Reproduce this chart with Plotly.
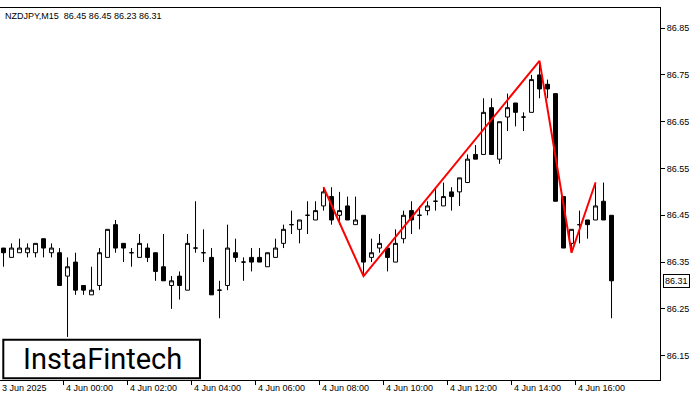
import plotly.graph_objects as go

# NZDJPY M15 candles, from 3 Jun 22:00 (index 0) to 4 Jun 17:00 (index 76)
opens = [86.38, 86.36, 86.37, 86.37, 86.37, 86.40, 86.37, 86.37, 86.32, 86.35,
         86.30, 86.28, 86.30, 86.36, 86.43, 86.39, 86.37, 86.36, 86.38, 86.37,
         86.34, 86.30, 86.32, 86.29, 86.38, 86.37, 86.36, 86.29, 86.30, 86.37,
         86.35, 86.36, 86.36, 86.34, 86.36, 86.39, 86.43, 86.42, 86.45, 86.44,
         86.47, 86.49, 86.45, 86.47, 86.43, 86.45, 86.36, 86.38, 86.38, 86.35,
         86.40, 86.46, 86.45, 86.46, 86.48, 86.47, 86.50, 86.50, 86.52, 86.58,
         86.58, 86.68, 86.57, 86.66, 86.69, 86.66, 86.67, 86.75, 86.73, 86.71,
         86.49, 86.39, 86.43, 86.44, 86.44, 86.48, 86.45]
highs = [86.38, 86.39, 86.40, 86.39, 86.39, 86.40, 86.39, 86.38, 86.36, 86.37,
         86.30, 86.34, 86.38, 86.42, 86.44, 86.39, 86.38, 86.41, 86.39, 86.37,
         86.41, 86.32, 86.33, 86.41, 86.48, 86.42, 86.38, 86.31, 86.43, 86.40,
         86.36, 86.38, 86.38, 86.37, 86.40, 86.43, 86.46, 86.44, 86.48, 86.48,
         86.51, 86.51, 86.50, 86.49, 86.49, 86.45, 86.40, 86.41, 86.38, 86.42,
         86.46, 86.48, 86.47, 86.48, 86.51, 86.52, 86.51, 86.53, 86.58, 86.60,
         86.70, 86.70, 86.65, 86.71, 86.69, 86.67, 86.75, 86.78, 86.74, 86.71,
         86.49, 86.42, 86.46, 86.44, 86.52, 86.52, 86.45]
lows = [86.34, 86.36, 86.37, 86.36, 86.36, 86.36, 86.36, 86.30, 86.19, 86.28,
        86.28, 86.28, 86.29, 86.36, 86.37, 86.35, 86.34, 86.36, 86.35, 86.31,
        86.31, 86.25, 86.27, 86.29, 86.37, 86.35, 86.28, 86.23, 86.29, 86.35,
        86.31, 86.33, 86.35, 86.34, 86.36, 86.38, 86.41, 86.39, 86.41, 86.44,
        86.46, 86.43, 86.43, 86.44, 86.43, 86.32, 86.35, 86.37, 86.33, 86.35,
        86.39, 86.41, 86.42, 86.45, 86.46, 86.47, 86.46, 86.47, 86.52, 86.57,
        86.58, 86.58, 86.56, 86.63, 86.64, 86.63, 86.67, 86.70, 86.70, 86.48,
        86.38, 86.37, 86.39, 86.40, 86.44, 86.44, 86.23]
closes = [86.37, 86.38, 86.38, 86.38, 86.39, 86.38, 86.38, 86.30, 86.34, 86.29,
          86.29, 86.29, 86.37, 86.42, 86.38, 86.38, 86.37, 86.39, 86.36, 86.33,
          86.31, 86.31, 86.30, 86.39, 86.38, 86.37, 86.28, 86.29, 86.38, 86.36,
          86.35, 86.35, 86.35, 86.37, 86.38, 86.42, 86.43, 86.44, 86.45, 86.46,
          86.50, 86.44, 86.46, 86.44, 86.44, 86.35, 86.37, 86.39, 86.36, 86.39,
          86.45, 86.44, 86.45, 86.47, 86.48, 86.49, 86.49, 86.53, 86.57, 86.57,
          86.67, 86.58, 86.65, 86.68, 86.67, 86.66, 86.74, 86.72, 86.72, 86.48,
          86.38, 86.42, 86.43, 86.43, 86.47, 86.44, 86.31]

# head and shoulders pattern outline
pattern_idx = [40, 45, 67, 71, 74]
pattern_val = [86.51, 86.32, 86.78, 86.37, 86.52]

tick_idx = [0, 8, 16, 24, 32, 40, 48, 56, 64, 72]
tick_text = ["3 Jun 2025", "4 Jun 00:00", "4 Jun 02:00", "4 Jun 04:00", "4 Jun 06:00",
             "4 Jun 08:00", "4 Jun 10:00", "4 Jun 12:00", "4 Jun 14:00", "4 Jun 16:00"]
price_ticks = [86.15, 86.25, 86.35, 86.45, 86.55, 86.65, 86.75, 86.85]
last_price = 86.31

x = list(range(len(opens)))
font = 'Arial, Liberation Sans'

fig = go.Figure()
fig.add_trace(go.Candlestick(
    x=x, open=opens, high=highs, low=lows, close=closes,
    increasing=dict(fillcolor='white', line=dict(color='black', width=1)),
    decreasing=dict(fillcolor='black', line=dict(color='black', width=1)),
    whiskerwidth=0, showlegend=False, hoverinfo='skip'
))
fig.add_trace(go.Scatter(
    x=pattern_idx, y=pattern_val, mode='lines',
    line=dict(color='#ff0000', width=2), showlegend=False, hoverinfo='skip'
))

fig.add_hline(y=last_price, line=dict(color='black', width=1))

annotations = []
for i, t in zip(tick_idx, tick_text):
    annotations.append(dict(x=max(i - 0.5, -0.4), y=0, xref='x', yref='paper', text=t,
                            showarrow=False, xanchor='left', yanchor='top', yshift=-1,
                            font=dict(size=9, color='black', family=font)))
annotations.append(dict(x=1, y=last_price, xref='paper', yref='y', text='86.31',
                        showarrow=False, xanchor='left', xshift=3,
                        bgcolor='white', bordercolor='black', borderwidth=1, borderpad=1,
                        font=dict(size=9, color='black', family=font)))
annotations.append(dict(x=0, y=1, xref='paper', yref='paper', text='NZDJPY,M15  86.45 86.45 86.23 86.31',
                        showarrow=False, xanchor='left', yanchor='top', xshift=3, yshift=-1,
                        font=dict(size=9, color='black', family=font)))
annotations.append(dict(x=0.155, y=0.057, xref='paper', yref='paper', text='InstaFintech',
                        xanchor='center', yanchor='middle',
                        showarrow=False, font=dict(size=29, color='black', family='Roboto')))

fig.update_layout(
    width=700, height=400,
    margin=dict(l=0, r=40, t=8, b=20),
    paper_bgcolor='white', plot_bgcolor='white',
    annotations=annotations,
    shapes=[dict(type='rect', xref='paper', yref='paper', x0=0.005, x1=0.303, y0=0.005, y1=0.108,
                 line=dict(color='black', width=2), fillcolor='white', layer='above')],
    xaxis=dict(range=[-0.44, 82.06], rangeslider=dict(visible=False), showgrid=False,
               tickvals=[i - 0.5 for i in tick_idx], ticktext=['' for _ in tick_idx],
               ticks='outside', ticklen=4, tickcolor='black', showline=True, linecolor='black',
               mirror=True, zeroline=False),
    yaxis=dict(range=[86.098, 86.893], side='right', showgrid=False, tickvals=price_ticks,
               tickformat='.2f', ticks='outside', ticklen=4, tickcolor='black',
               showline=True, linecolor='black', mirror=True, zeroline=False,
               tickfont=dict(size=9, color='black', family=font)),
)

fig.write_html("out.html", config={'displayModeBar': False},
               post_script="document.body.style.margin='0';")
